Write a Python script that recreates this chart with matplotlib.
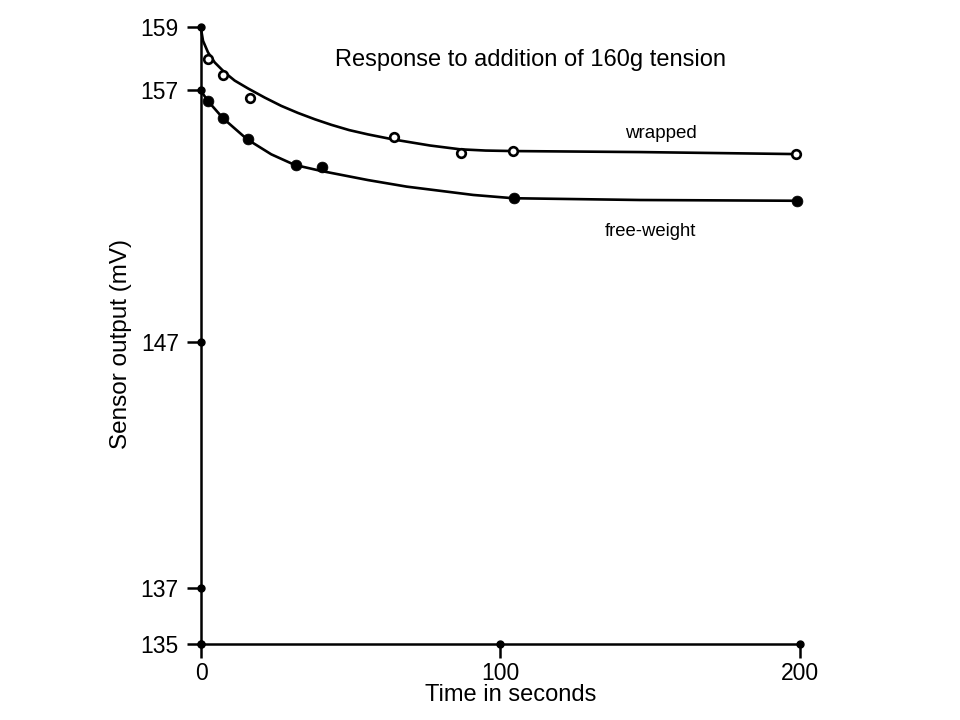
import numpy as np
import matplotlib
matplotlib.use("Agg")
import matplotlib.pyplot as plt

plt.rcParams['font.family'] = ['Liberation Sans', 'DejaVu Sans']

# ---- data ----
title = "Response to addition of 160g tension"
xlabel = "Time in seconds"
ylabel = "Sensor output (mV)"

xticks = [0, 100, 200]
yticks = [135, 137, 147, 157, 159]

wrapped_t = [2.3, 7.4, 16.4, 64.5, 86.8, 104.1, 198.6]
wrapped_v = [157.98, 157.48, 156.68, 155.15, 154.51, 154.58, 154.46]

free_t = [2.3, 7.4, 15.6, 31.6, 40.5, 104.5, 198.9]
free_v = [156.58, 155.88, 155.06, 154.04, 153.95, 152.71, 152.61]

# hand-drawn fitted curves, read point by point
wrapped_curve_t = [0, 0.67, 2.34, 4.57, 7.91, 11.25, 15.69, 21.27, 26.81, 32.39, 38.0, 43.51,
                   49.5, 55.76, 64.21, 76.46, 86.48, 95.0, 104.17, 146.58, 198.66]
wrapped_curve_v = [158.95, 158.57, 158.20, 157.88, 157.56, 157.30, 157.05, 156.70, 156.37,
                   156.09, 155.84, 155.62, 155.41, 155.24, 155.04, 154.80, 154.65, 154.60,
                   154.58, 154.54, 154.46]

free_curve_t = [0, 2.34, 7.35, 15.36, 23.47, 31.3, 40.17, 55.76, 68.68, 90.92, 104.27,
                146.58, 198.9]
free_curve_v = [156.96, 156.56, 155.88, 155.05, 154.45, 154.03, 153.79, 153.43, 153.17,
                152.84, 152.71, 152.64, 152.61]

# ---- non-uniform (hand-drawn) y axis: tick values -> relative positions ----
scale_vals = np.array([125.0, 135.0, 137.0, 147.0, 157.0, 159.0, 170.0])
scale_pos = -np.array([925.5, 644.0, 587.7, 342.3, 90.0, 27.3, -317.6])


def fwd(v):
    return np.interp(v, scale_vals, scale_pos)


def inv(p):
    return np.interp(p, scale_pos, scale_vals)


W, H = 960, 720
fig = plt.figure(figsize=(9.6, 7.2), dpi=100)
x0, x1 = 201, 800
yb, yt = 644, 27.3
ax = fig.add_axes([x0 / W, (H - yb) / H, (x1 - x0) / W, (yb - yt) / H])
ax.set_yscale('function', functions=(fwd, inv))
ax.set_xlim(0, 200)
ax.set_ylim(135, 159)

for s in ['top', 'right']:
    ax.spines[s].set_visible(False)
for s in ['left', 'bottom']:
    ax.spines[s].set_linewidth(1.8)
    ax.spines[s].set_capstyle('butt')

ax.set_xticks(xticks)
ax.set_xticklabels([str(t) for t in xticks])
ax.set_yticks(yticks)
ax.set_yticklabels([str(t) for t in yticks])
ax.yaxis.set_minor_locator(matplotlib.ticker.NullLocator())
ax.tick_params(axis='both', direction='out', length=10, width=1.8, labelsize=16.5)
ax.tick_params(axis='y', pad=6)
ax.tick_params(axis='x', pad=3)

# dots at tick positions
ax.plot([0] * len(yticks), yticks, 'o', color='black', ms=5, clip_on=False, zorder=5)
ax.plot(xticks, [135] * len(xticks), 'o', color='black', ms=5, clip_on=False, zorder=5)

# curves
ax.plot(wrapped_curve_t, wrapped_curve_v, color='black', lw=1.9, clip_on=False, zorder=3,
        solid_joinstyle='round')
ax.plot(free_curve_t, free_curve_v, color='black', lw=1.9, clip_on=False, zorder=3,
        solid_joinstyle='round')

# points
ax.plot(wrapped_t, wrapped_v, 'o', mfc='white', mec='black', mew=1.9, ms=6.2, clip_on=False, zorder=4)
ax.plot(free_t, free_v, 'o', mfc='black', mec='black', mew=0.5, ms=7.8, clip_on=False, zorder=4)

# labels
ax.set_xlabel(xlabel, fontsize=17, va='center', ha='center')
ax.xaxis.set_label_coords((511 - x0) / (x1 - x0), (yb - 695) / (yb - yt))
ax.set_ylabel(ylabel, fontsize=17.5, va='center', ha='center')
ax.yaxis.set_label_coords((121 - x0) / (x1 - x0), (yb - 344) / (yb - yt))

fig.text(530.5 / W, 1 - 60 / H, title, fontsize=17, ha='center', va='center')
fig.text(661 / W, 1 - 133 / H, "wrapped", fontsize=13.5, ha='center', va='center')
fig.text(650.5 / W, 1 - 232 / H, "free-weight", fontsize=13.3, ha='center', va='center')

fig.savefig("out.png", dpi=100, facecolor='white')
